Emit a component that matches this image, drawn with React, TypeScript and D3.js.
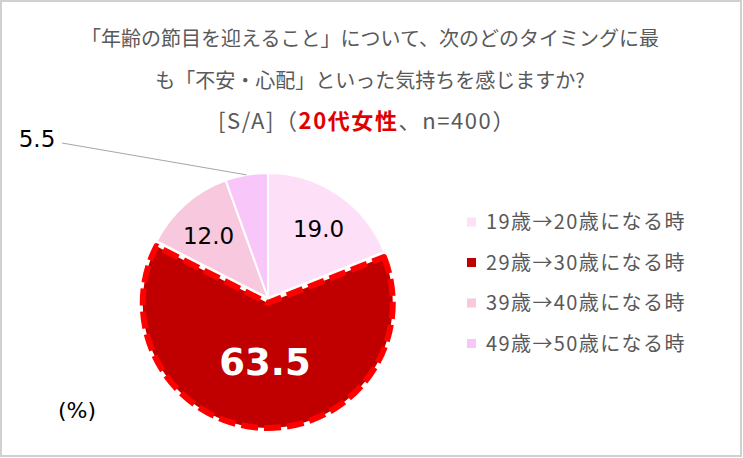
import React from "react";
import * as d3 from "d3";

const categories = ["19歳→20歳になる時", "29歳→30歳になる時", "39歳→40歳になる時", "49歳→50歳になる時"];
const values = [19.0, 63.5, 12.0, 5.5];
const colors = ["#FDE0F8", "#C00000", "#F8C8DE", "#F9C6FA"];
const titleLines = ["「年齢の節目を迎えること」について、次のどのタイミングに最", "も「不安・心配」といった気持ちを感じますか?"];

const W = 743;
const H = 458;
const cx = 268;
const cy = 298;
const R = 125;

export default function App() {
  const pie = d3.pie<number>().sort(null).value((d) => d)(values);
  const arc = d3.arc<d3.PieArcDatum<number>>().innerRadius(0).outerRadius(R);
  const font = "'Noto Sans CJK JP', 'Noto Sans', sans-serif";
  const labelFont = "'DejaVu Sans', 'Noto Sans', sans-serif";
  const explode = 5;

  return (
    <svg width={W} height={H} style={{ position: "absolute", left: 0, top: 0, background: "#fff" }}>
      <rect x={1} y={1} width={W - 3} height={H - 3} fill="#fff" stroke="#d0d0d0" strokeWidth={2} />
      <g fontFamily={font} fill="#595959" textAnchor="middle" fontSize={20}>
        <text x={370} y={46}>{titleLines[0]}</text>
        <text x={370} y={88}>{titleLines[1]}</text>
        <text x={367} y={129} fontSize={22} letterSpacing={1.6}>
          [S/A]（<tspan fill="#E00000" fontWeight="bold">20代女性</tspan>、n=400）
        </text>
      </g>
      <g transform={`translate(${cx},${cy})`}>
        {pie.map((p, i) => {
          const mid = (p.startAngle + p.endAngle) / 2;
          const off = i === 1 ? explode : 0;
          const dx = Math.sin(mid) * off;
          const dy = -Math.cos(mid) * off;
          return (
            <path
              key={i}
              d={arc(p) || ""}
              transform={`translate(${dx},${dy})`}
              fill={colors[i]}
              stroke={i === 1 ? "#FF0000" : "#fff"}
              strokeWidth={i === 1 ? 6 : 2}
              strokeDasharray={i === 1 ? "17 6" : undefined}
              strokeLinejoin="round"
            />
          );
        })}
        {pie.map((p, i) => {
          const mid = (p.startAngle + p.endAngle) / 2;
          if (i === 3) {
            const ex = Math.sin(mid) * R;
            const ey = -Math.cos(mid) * R;
            return (
              <g key={i}>
                <line x1={ex} y1={ey} x2={62 - cx} y2={143 - cy} stroke="#a6a6a6" strokeWidth={1} />
                <text x={37 - cx} y={147 - cy} textAnchor="middle" fontFamily={labelFont} fontSize={23} fill="#000">
                  {values[i].toFixed(1)}
                </text>
              </g>
            );
          }
          const lr = i === 1 ? R * 0.47 : R * 0.72;
          const off = i === 1 ? explode : 0;
          const lx = Math.sin(mid) * (lr + off);
          const ly = -Math.cos(mid) * (lr + off) + (i === 1 ? 0 : 5);
          return (
            <text
              key={i}
              x={lx}
              y={ly}
              dy="0.35em"
              textAnchor="middle"
              fontFamily={labelFont}
              fontSize={i === 1 ? 37 : 23}
              fontWeight={i === 1 ? "bold" : "normal"}
              fill={i === 1 ? "#fff" : "#000"}
            >
              {values[i].toFixed(1)}
            </text>
          );
        })}
      </g>
      <g fontFamily={font} fontSize={20} fill="#595959" letterSpacing={1.4}>
        {categories.map((c, i) => (
          <g key={i} transform={`translate(467,${222 + i * 40.5})`}>
            <rect x={0} y={-4.5} width={9} height={9} fill={colors[i]} />
            <text x={19} y={0} dy="0.35em">{c}</text>
          </g>
        ))}
      </g>
      <text x={77} y={418} textAnchor="middle" fontFamily={labelFont} fontSize={22} fill="#000">(%)</text>
    </svg>
  );
}
